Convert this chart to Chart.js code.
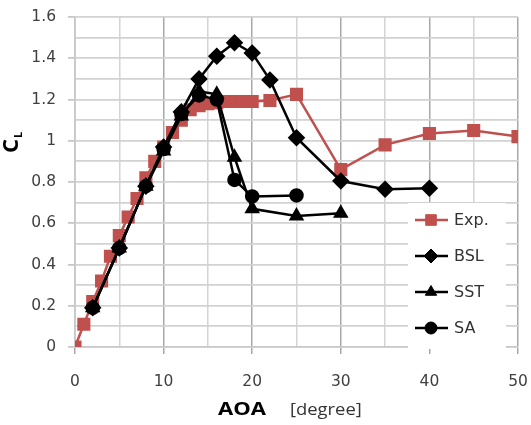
<!DOCTYPE html>
<html>
<head>
<meta charset="utf-8">
<script src="https://cdn.jsdelivr.net/npm/chart.js@4.4.0/dist/chart.umd.min.js"></script>
<style>
  body { margin: 0; background: #fff; }
</style>
</head>
<body>
<canvas id="myChart" width="531" height="425"></canvas>
<script>
// angle of attack [degree] and lift coefficient per series
const expAoa = [0, 1, 2, 3, 4, 5, 6, 7, 8, 9, 10, 11, 12, 13, 14, 15, 16, 17, 18, 19, 20, 22, 25, 30, 35, 40, 45, 50];
const expCl  = [0, 0.11, 0.22, 0.32, 0.44, 0.54, 0.63, 0.72, 0.82, 0.9, 0.97, 1.04, 1.1, 1.15, 1.17, 1.18, 1.185, 1.19, 1.19, 1.19, 1.19, 1.195, 1.225, 0.86, 0.98, 1.035, 1.05, 1.02];

const bslAoa = [2, 5, 8, 10, 12, 14, 16, 18, 20, 22, 25, 30, 35, 40];
const bslCl  = [0.19, 0.48, 0.78, 0.97, 1.14, 1.3, 1.41, 1.475, 1.425, 1.295, 1.015, 0.805, 0.765, 0.77];

const sstAoa = [2, 5, 8, 10, 12, 14, 16, 18, 20, 25, 30];
const sstCl  = [0.19, 0.48, 0.78, 0.95, 1.12, 1.24, 1.225, 0.92, 0.67, 0.635, 0.648];

const saAoa = [2, 5, 8, 10, 12, 14, 16, 18, 20, 25];
const saCl  = [0.19, 0.48, 0.78, 0.96, 1.13, 1.22, 1.2, 0.81, 0.73, 0.735];

const xTicks = [0, 10, 20, 30, 40, 50];
const yTicks = [0, 0.2, 0.4, 0.6, 0.8, 1, 1.2, 1.4, 1.6];

const RED = '#C0504D';
const FONT = '"DejaVu Sans"';

function pts(xs, ys) {
  return xs.map((x, i) => ({ x: x, y: ys[i] }));
}
function isMajor(list, v) {
  return list.some(t => Math.abs(t - v) < 1e-6);
}

// legend drawn inside the plot, lower right
const innerLegend = {
  id: 'innerLegend',
  afterDatasetsDraw(chart) {
    const ctx = chart.ctx;
    const x0 = 408, y0 = 203, w = 98, rowH = 36;
    ctx.save();
    ctx.fillStyle = '#fff';
    ctx.fillRect(x0, y0, w, rowH * 4 + 2);
    chart.data.datasets.forEach((ds, i) => {
      const cy = y0 + 17 + i * rowH;
      ctx.strokeStyle = ds.borderColor;
      ctx.fillStyle = ds.backgroundColor;
      ctx.lineWidth = 2.5;
      ctx.beginPath();
      ctx.moveTo(x0 + 7, cy);
      ctx.lineTo(x0 + 40, cy);
      ctx.stroke();
      ctx.lineWidth = 1;
      Chart.helpers.drawPoint(ctx, {
        pointStyle: ds.pointStyle, radius: ds.pointRadius, rotation: 0, borderWidth: 1
      }, x0 + 23, cy);
      ctx.fillStyle = '#333';
      ctx.font = '16px ' + FONT;
      ctx.textBaseline = 'middle';
      ctx.fillText(ds.label, x0 + 46, cy + 1);
    });
    ctx.restore();
  }
};

// axis titles: C_L (rotated) and "AOA [degree]"
const axisTitles = {
  id: 'axisTitles',
  afterDraw(chart) {
    const ctx = chart.ctx;
    ctx.save();
    ctx.fillStyle = '#000';
    ctx.translate(18, 143);
    ctx.rotate(-Math.PI / 2);
    ctx.textBaseline = 'alphabetic';
    ctx.font = 'bold 22px "Open Sans"';
    ctx.fillText('C', -10, 0);
    ctx.font = 'bold 11px "Open Sans"';
    ctx.fillText('L', 5, 4);
    ctx.restore();

    ctx.save();
    ctx.fillStyle = '#000';
    ctx.textBaseline = 'middle';
    ctx.translate(218, 410);
    ctx.scale(1.3, 1);
    ctx.font = 'bold 17px "Open Sans"';
    ctx.fillText('AOA', 0, 0);
    ctx.restore();

    ctx.save();
    ctx.fillStyle = '#333';
    ctx.textBaseline = 'middle';
    ctx.translate(290, 410);
    ctx.scale(1.15, 1);
    ctx.font = '16px "Open Sans"';
    ctx.fillText('[degree]', 0, 0);
    ctx.restore();
  }
};

const ctx = document.getElementById('myChart');
new Chart(ctx, {
  type: 'line',
  data: {
    datasets: [
      { label: 'Exp.', data: pts(expAoa, expCl), borderColor: RED, backgroundColor: RED,
        pointStyle: 'rect', pointRadius: 7.5, borderWidth: 2.5, order: 1 },
      { label: 'BSL', data: pts(bslAoa, bslCl), borderColor: '#000', backgroundColor: '#000',
        pointStyle: 'rectRot', pointRadius: 7, borderWidth: 2.5, order: 0 },
      { label: 'SST', data: pts(sstAoa, sstCl), borderColor: '#000', backgroundColor: '#000',
        pointStyle: 'triangle', pointRadius: 6.5, borderWidth: 2.5, order: 0 },
      { label: 'SA', data: pts(saAoa, saCl), borderColor: '#000', backgroundColor: '#000',
        pointStyle: 'circle', pointRadius: 6, borderWidth: 2.5, order: 0 }
    ]
  },
  options: {
    responsive: false,
    animation: false,
    devicePixelRatio: 1,
    layout: { padding: { top: 17, right: 13, left: 0, bottom: 0 } },
    plugins: { legend: { display: false }, tooltip: { enabled: false } },
    elements: { line: { tension: 0 }, point: { borderWidth: 1 } },
    scales: {
      x: {
        type: 'linear', min: 0, max: 50,
        afterFit: s => { s.height = 78; s.paddingLeft = 0; s.paddingRight = 0; },
        ticks: {
          stepSize: 5, padding: 19, color: '#404040',
          font: { family: FONT, size: 15.5 },
          maxRotation: 0, autoSkip: false,
          callback: v => isMajor(xTicks, v) ? String(v) : ''
        },
        grid: {
          color: c => isMajor(xTicks, c.tick.value) ? '#a8a8a8' : '#d4d4d4',
          tickColor: c => isMajor(xTicks, c.tick.value) ? '#a8a8a8' : 'rgba(0,0,0,0)',
          tickLength: 7, lineWidth: 1.5
        },
        border: { color: '#c8c8c8', width: 1.5 }
      },
      y: {
        type: 'linear', min: 0, max: 1.6,
        afterFit: s => { s.width = 75; s.paddingTop = 0; s.paddingBottom = 0; },
        ticks: {
          stepSize: 0.1, padding: 12, color: '#404040',
          font: { family: FONT, size: 15.5 },
          autoSkip: false,
          callback: v => isMajor(yTicks, v) ? String(Math.round(v * 10) / 10) : ''
        },
        grid: {
          color: '#d2d2d2',
          tickColor: c => isMajor(yTicks, c.tick.value) ? '#c8c8c8' : 'rgba(0,0,0,0)',
          tickLength: 7, lineWidth: 1.8
        },
        border: { color: '#c8c8c8', width: 1.5 }
      }
    }
  },
  plugins: [innerLegend, axisTitles]
});
</script>
</body>
</html>
